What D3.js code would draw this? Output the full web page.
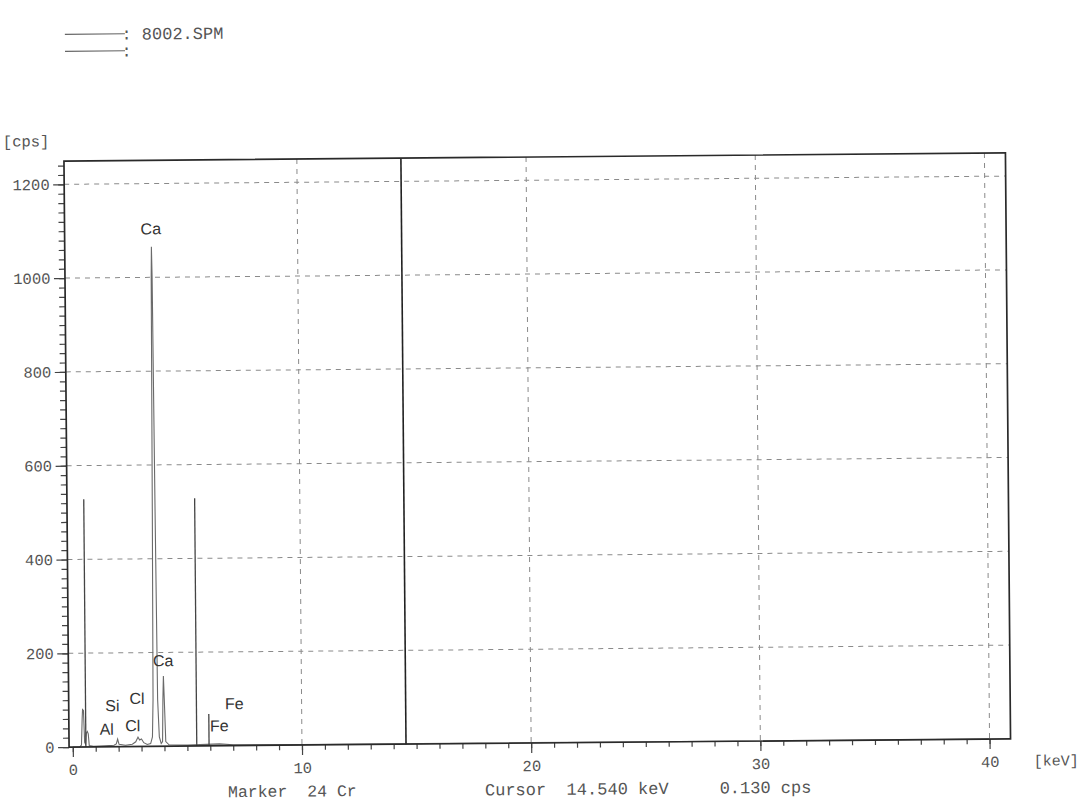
<!DOCTYPE html>
<html><head><meta charset="utf-8">
<script src="https://cdn.jsdelivr.net/npm/d3@7"></script>
<style>
body{margin:0;background:#fff}
svg{display:block}
</style>
</head><body>
<svg id="chart" width="1079" height="803"></svg>
<script>
// EDX spectrum: energy (keV) vs count rate (cps)
const spectrumKeV = [0.00, 0.30, 0.38, 0.42, 0.44, 0.48, 0.52, 0.56, 0.60, 0.64, 0.68, 0.72, 0.90, 1.40, 1.80, 1.90, 1.96, 2.02, 2.30, 2.60, 2.75, 2.85, 2.92, 3.00, 3.10, 3.25, 3.40, 3.48, 3.52, 3.56, 3.60, 3.62, 3.64, 3.68, 3.72, 3.78, 3.86, 3.92, 3.95, 3.98, 4.01, 4.06, 4.20, 5.00, 6.40, 7.00, 10.0, 20.0, 30.0, 40.0];
const spectrumCps = [0, 0, 4, 60, 80, 78, 10, 6, 30, 33, 28, 3, 1, 2, 3, 6, 16, 5, 3, 5, 10, 20, 14, 16, 8, 4, 6, 20, 100, 500, 1000, 1065, 1000, 500, 100, 20, 6, 10, 100, 150, 100, 10, 3, 2, 4, 2, 1, 1, 0, 0];

// KLM marker lines for the selected element
const markerKeV = [0.573, 5.411, 5.947];
const markerCps = [528, 528, 68];

// Peak identification labels
const peakLabels = ["Al", "Si", "Cl", "Cl", "Ca", "Ca", "Fe", "Fe"];
const peakLabelKeV = [1.49, 1.74, 2.62, 2.82, 3.60, 3.98, 6.40, 7.06];
const peakLabelCps = [38, 88, 45, 103, 1104, 183, 43, 90];

const xTicks = [0, 10, 20, 30, 40];
const yTicks = [0, 200, 400, 600, 800, 1000, 1200];

const fileName = "8002.SPM";
const markerText = "Marker  24 Cr";
const cursorKeV = 14.54;
const cursorCps = 0.130;

const W = 1079, H = 803;
const svg = d3.select("#chart");
// the printed sheet sits slightly turned on the page
const root = svg.append("g").attr("transform", `rotate(-0.5, ${W / 2 - 3.5}, 450)`);

const frame = {left: 66.5, right: 1008, top: 157, bottom: 743};
const x0 = 70.2, pxPerKeV = 22.92;
const x = d3.scaleLinear()
  .domain([(frame.left - x0) / pxPerKeV, (frame.right - x0) / pxPerKeV])
  .range([frame.left, frame.right]);
const y = d3.scaleLinear().domain([0, (frame.bottom - frame.top) / 0.469]).range([frame.bottom, frame.top]);

const mono = "'Liberation Mono', 'DejaVu Sans Mono', monospace";
const textGrey = "#555";

// grid
const grid = root.append("g").attr("stroke", "#8a8a8a").attr("stroke-width", 1).attr("stroke-dasharray", "5,5");
grid.selectAll("line.gx").data(xTicks.filter(d => d > 0)).join("line")
  .attr("x1", d => x(d)).attr("x2", d => x(d)).attr("y1", frame.top).attr("y2", frame.bottom);
grid.selectAll("line.gy").data(yTicks.filter(d => d > 0)).join("line")
  .attr("y1", d => y(d)).attr("y2", d => y(d)).attr("x1", frame.left).attr("x2", frame.right);

// axes: minor and major ticks
function styleAxis(g) {
  g.select(".domain").remove();
  g.selectAll(".tick line").attr("stroke", "#444").attr("stroke-width", 1.2);
  g.selectAll(".tick text").attr("fill", textGrey).style("font-family", mono).style("font-size", "15.5px");
}
root.append("g").attr("transform", `translate(${frame.left},0)`)
  .call(d3.axisLeft(y).tickValues(d3.range(0, 1250, 20)).tickSize(6).tickFormat(""))
  .call(styleAxis);
root.append("g").attr("transform", `translate(${frame.left},0)`)
  .call(d3.axisLeft(y).tickValues(yTicks).tickSize(11).tickPadding(3.5).tickFormat(d3.format("d")))
  .call(styleAxis);
root.append("g").attr("transform", `translate(0,${frame.bottom})`)
  .call(d3.axisBottom(x).tickValues(d3.range(0, 41, 1)).tickSize(5).tickFormat(""))
  .call(styleAxis);
root.append("g").attr("transform", `translate(0,${frame.bottom})`)
  .call(d3.axisBottom(x).tickValues(xTicks).tickSize(10).tickPadding(7).tickFormat(d3.format("d")))
  .call(styleAxis);

// spectrum trace
const pts = spectrumKeV.map((e, i) => [e, spectrumCps[i]]);
root.append("path").datum(pts)
  .attr("fill", "none").attr("stroke", "#6a6a6a").attr("stroke-width", 1.1)
  .attr("d", d3.line().x(d => x(d[0])).y(d => y(d[1])));

// marker lines
root.selectAll("line.marker").data(markerKeV).join("line")
  .attr("x1", d => x(d)).attr("x2", d => x(d))
  .attr("y1", frame.bottom).attr("y2", (d, i) => y(markerCps[i]))
  .attr("stroke", "#444").attr("stroke-width", 1.3);

// cursor
root.append("line")
  .attr("x1", x(cursorKeV)).attr("x2", x(cursorKeV))
  .attr("y1", frame.bottom).attr("y2", frame.top)
  .attr("stroke", "#222").attr("stroke-width", 1.6);

// peak labels
root.selectAll("text.peak").data(peakLabels).join("text")
  .attr("x", (d, i) => x(peakLabelKeV[i]))
  .attr("y", (d, i) => y(peakLabelCps[i]))
  .attr("dy", "0.36em")
  .attr("text-anchor", "middle")
  .style("font-family", "'Liberation Sans', Arial, sans-serif")
  .style("font-size", "16px")
  .attr("fill", "#333")
  .text(d => d);

// frame
root.append("rect")
  .attr("x", frame.left).attr("y", frame.top)
  .attr("width", frame.right - frame.left).attr("height", frame.bottom - frame.top)
  .attr("fill", "none").attr("stroke", "#2a2a2a").attr("stroke-width", 1.7);

// unit labels and captions
const txt = (xp, yp, s, size) => root.append("text")
  .attr("x", xp).attr("y", yp)
  .style("font-family", mono).style("font-size", (size || 17) + "px").attr("fill", textGrey)
  .attr("xml:space", "preserve").style("white-space", "pre").text(s);

txt(5.5, 142, "[cps]", 15.5);
txt(1031, 770, "[keV]", 15);

// legend
const legend = root.append("g").attr("stroke", "#666").attr("stroke-width", 1.2);
legend.append("line").attr("x1", 68.5).attr("x2", 128.5).attr("y1", 30.2).attr("y2", 30.2);
legend.append("line").attr("x1", 68.5).attr("x2", 128.5).attr("y1", 47.2).attr("y2", 47.2);
txt(125, 36, ": " + fileName);
txt(125, 53, ":");

// status line
txt(225, 794.5, markerText, 16.5);
txt(482, 795, `Cursor  ${cursorKeV.toFixed(3)} keV     ${cursorCps.toFixed(3)} cps`);
</script>
</body></html>
